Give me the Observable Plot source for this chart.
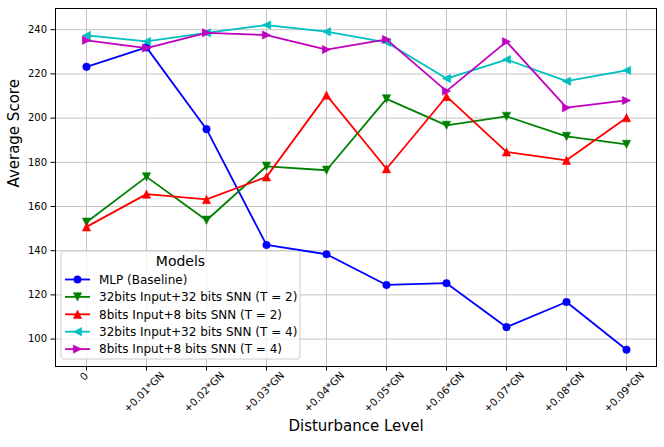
<!DOCTYPE html>
<html>
<head>
<meta charset="utf-8">
<script src="https://cdn.jsdelivr.net/npm/d3@7"></script>
<script src="https://cdn.jsdelivr.net/npm/@observablehq/plot@0.6"></script>
<style>
  html, body { margin: 0; padding: 0; background: #fff; }
  #chart { width: 664px; height: 447px; }
</style>
</head>
<body>
<div id="chart"></div>
<script>
// ---- data ----
const levels = ["0", "+0.01*GN", "+0.02*GN", "+0.03*GN", "+0.04*GN", "+0.05*GN", "+0.06*GN", "+0.07*GN", "+0.08*GN", "+0.09*GN"];
const seriesNames = [
  "MLP (Baseline)",
  "32bits Input+32 bits SNN (T = 2)",
  "8bits Input+8 bits SNN (T = 2)",
  "32bits Input+32 bits SNN (T = 4)",
  "8bits Input+8 bits SNN (T = 4)"
];
const mlp     = [223.2, 232.0, 195.0, 142.6, 138.4, 124.5, 125.3, 105.4, 116.8, 95.2];
const snn32T2 = [152.9, 173.4, 153.8, 178.2, 176.4, 208.7, 196.7, 200.8, 191.7, 188.1];
const snn8T2  = [150.8, 165.6, 163.2, 173.4, 210.4, 177.1, 209.8, 184.7, 180.9, 200.2];
const snn32T4 = [237.4, 234.7, 238.6, 242.1, 239.1, 234.3, 217.9, 226.5, 216.7, 221.6];
const snn8T4  = [235.2, 231.7, 238.6, 237.6, 231.0, 235.6, 212.2, 234.6, 204.7, 208.0];
const yTicks  = [100, 120, 140, 160, 180, 200, 220, 240];

// ---- styling ----
const colors = ["#0000ff", "#008000", "#ff0000", "#00bfbf", "#bf00bf"];
function tri(angle) {
  // matplotlib-like triangle: width = height = 2r, centered on bbox
  return {
    draw(ctx, size) {
      const r = Math.sqrt(size / Math.PI);
      const pts = [[0, -r], [-r, r], [r, r]]; // pointing up (screen coords)
      const a = angle * Math.PI / 180, c = Math.cos(a), s = Math.sin(a);
      pts.forEach(([x, y], i) => {
        const X = x * c - y * s, Y = x * s + y * c;
        if (i === 0) ctx.moveTo(X, Y); else ctx.lineTo(X, Y);
      });
      ctx.closePath();
    }
  };
}
const symbols = ["circle", tri(180), tri(0), tri(-90), tri(90)];
const radii = [3.8, 4.2, 4.2, 4.2, 4.2];
const valuesList = [mlp, snn32T2, snn8T2, snn32T4, snn8T4];

const seriesMarks = [];
valuesList.forEach((vals, k) => {
  const rows = levels.map((lv, i) => ({level: lv, value: vals[i]}));
  seriesMarks.push(Plot.line(rows, {x: "level", y: "value", stroke: colors[k], strokeWidth: 1.8}));
  seriesMarks.push(Plot.dot(rows, {x: "level", y: "value", fill: colors[k], stroke: colors[k], strokeWidth: 0.5, symbol: symbols[k], r: radii[k]}));
});

const chart = Plot.plot({
  width: 664,
  height: 447,
  marginLeft: 55,
  marginRight: 8,
  marginTop: 8,
  marginBottom: 81,
  style: {fontFamily: "DejaVu Sans", fontSize: "10px", background: "#fff", color: "#000"},
  x: {type: "point", domain: levels, padding: 0.45, align: 0.5},
  y: {domain: [87.6, 249.6]},
  marks: [
    Plot.gridX(levels, {x: d => d, stroke: "#c4c4c4", strokeOpacity: 1, strokeWidth: 1}),
    Plot.gridY(yTicks, {y: d => d, stroke: "#c4c4c4", strokeOpacity: 1, strokeWidth: 1}),
    Plot.axisY(yTicks, {tickSize: 4.5, tickPadding: 4, label: null, fontSize: 10, stroke: "#000"}),
    Plot.axisX(levels, {tickSize: 4.5, tickFormat: () => "", label: null, stroke: "#000"}),
    Plot.text(levels, {filter: d => d !== "0", x: d => d, text: d => d, frameAnchor: "bottom", dy: 28, rotate: -45, textAnchor: "middle", fontSize: 10.3}),
    Plot.text(levels, {filter: d => d === "0", x: d => d, text: d => d, frameAnchor: "bottom", dy: 12.5, rotate: -45, textAnchor: "middle", fontSize: 10.3}),
    Plot.text(["Disturbance Level"], {frameAnchor: "bottom", text: d => d, dy: 64, fontSize: 15}),
    Plot.text(["Average Score"], {frameAnchor: "left", text: d => d, dx: -41, rotate: -90, fontSize: 15}),
    ...seriesMarks,
    Plot.frame({stroke: "#000", strokeWidth: 1})
  ]
});
document.getElementById("chart").appendChild(chart);

// ---- legend (drawn into the same SVG) ----
const svg = d3.select(chart.tagName.toLowerCase() === "svg" ? chart : chart.querySelector("svg"));
const lg = svg.append("g").attr("font-family", "DejaVu Sans").attr("text-anchor", "start");
const lx = 61, ly = 251, lw = 239, lh = 108;
lg.append("rect").attr("x", lx).attr("y", ly).attr("width", lw).attr("height", lh)
  .attr("rx", 3).attr("fill", "#fff").attr("fill-opacity", 0.8).attr("stroke", "#cccccc").attr("stroke-width", 1);
lg.append("text").attr("x", lx + lw / 2).attr("y", 266).attr("text-anchor", "middle")
  .attr("font-size", 14).attr("fill", "#000").text("Models");
seriesNames.forEach((name, k) => {
  const cy = 279.5 + k * 17.4;
  lg.append("line").attr("x1", 65).attr("x2", 90).attr("y1", cy).attr("y2", cy)
    .attr("stroke", colors[k]).attr("stroke-width", 1.8);
  const sym = k === 0 ? d3.symbolCircle : symbols[k];
  lg.append("path").attr("d", d3.symbol(sym, Math.PI * radii[k] * radii[k])())
    .attr("transform", `translate(77.5,${cy})`).attr("fill", colors[k]).attr("stroke", colors[k]).attr("stroke-width", 0.5);
  lg.append("text").attr("x", 99).attr("y", cy).attr("dy", "0.36em").attr("text-anchor", "start")
    .attr("font-size", 12).attr("fill", "#000").text(name);
});
</script>
</body>
</html>
